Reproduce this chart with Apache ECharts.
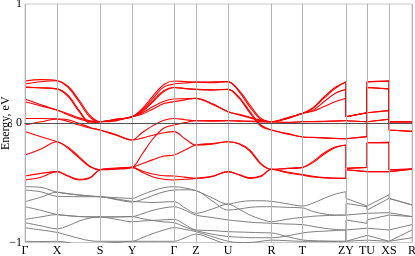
<!DOCTYPE html>
<html><head><meta charset="utf-8">
<script src="https://cdn.jsdelivr.net/npm/echarts@6/dist/echarts.min.js"></script>
<style>html,body{margin:0;padding:0;background:#fff}#c{width:415px;height:256px}</style>
</head><body><div id="c"></div>
<script>
// k-path distances (arbitrary units along the path)
const K = [0,16,32,43,54,65,75,91,107,117,128,139,149,160,171,187,203,214,225,236,246.5,262,277.5,288,299,310,321,321,342,342,364,364,387];
const kTicks  = [0,32,75,107,149,171,203,246.5,277.5,321,342,364,387];
const kLabels = ['Γ','X','S','Y','Γ','Z','U','R','T','ZY','TU','XS','R'];
const yTicks = [-1,0,1];

// red bands (eV)
const R1 = [0.354,0.366,0.357,0.31,0.195,0.065,0.013,0.035,0.055,0.12,0.23,0.325,0.354,0.35,0.345,0.347,0.349,0.275,0.153,0.04,0.013,0.045,0.083,0.13,0.22,0.30,0.349,0.055,0.088,0.349,0.352,0.013,0.013];
const R2 = [0.329,0.348,0.357,0.30,0.18,0.05,0.013,0.032,0.055,0.11,0.21,0.305,0.329,0.337,0.345,0.34,0.349,0.265,0.135,0.03,0.013,0.042,0.083,0.125,0.21,0.29,0.345,0.055,0.088,0.347,0.355,0.013,0.013];
const R3 = [0.30,0.298,0.288,0.235,0.11,0.01,0.013,0.03,0.055,0.10,0.19,0.275,0.30,0.29,0.284,0.278,0.284,0.22,0.097,-0.015,-0.057,-0.09,-0.115,-0.12,-0.125,-0.128,-0.13,-0.14,-0.112,0.301,0.288,-0.057,-0.068];
const R4 = [0.305,0.296,0.288,0.225,0.10,0.0,0.013,0.028,0.055,0.095,0.18,0.265,0.30,0.292,0.284,0.281,0.284,0.21,0.085,-0.025,-0.057,-0.085,-0.115,-0.118,-0.122,-0.126,-0.13,-0.14,-0.112,0.30,0.287,-0.057,-0.068];
const R5 = [0.203,0.155,0.111,0.08,0.045,0.02,0.013,0.025,0.055,0.085,0.14,0.185,0.203,0.206,0.209,0.165,0.097,0.075,0.05,0.025,0.013,0.04,0.083,0.11,0.18,0.25,0.284,0.055,0.088,0.097,0.108,0.013,0.013];
const R6 = [0.181,0.145,0.111,0.07,0.035,0.015,0.013,0.02,0.055,0.075,0.12,0.165,0.181,0.196,0.209,0.16,0.097,0.07,0.045,0.02,0.013,0.038,0.083,0.10,0.14,0.18,0.209,0.055,0.088,0.097,0.105,0.013,0.013];
const R7 = [0.04,0.04,0.036,0.03,0.0,-0.035,-0.057,-0.1,-0.14,-0.08,-0.02,0.025,0.04,0.03,0.021,0.022,0.021,0.02,0.018,0.015,0.013,0.008,0.013,0.015,0.017,0.019,0.021,0.035,0.013,0.027,0.033,0.013,0.013];
const R8 = [-0.015,0.012,0.036,0.015,-0.015,-0.04,-0.057,-0.095,-0.14,-0.125,-0.10,-0.08,-0.07,-0.13,-0.182,-0.175,-0.155,-0.17,-0.226,-0.338,-0.386,-0.378,-0.37,-0.32,-0.25,-0.20,-0.182,-0.378,-0.37,-0.163,-0.16,-0.39,-0.385];
const R9 = [-0.07,-0.113,-0.155,-0.20,-0.28,-0.36,-0.39,-0.385,-0.37,-0.26,-0.13,-0.04,-0.015,0.005,0.021,0.018,0.021,0.018,0.015,0.01,0.013,0.005,0.013,0.012,0.015,0.018,0.021,0.035,0.013,0.027,0.033,0.013,0.013];
const R10 = [-0.266,-0.215,-0.155,-0.21,-0.29,-0.365,-0.39,-0.38,-0.37,-0.34,-0.305,-0.275,-0.266,-0.225,-0.182,-0.17,-0.155,-0.175,-0.235,-0.345,-0.386,-0.38,-0.37,-0.33,-0.26,-0.205,-0.182,-0.378,-0.37,-0.163,-0.16,-0.39,-0.385];
const R11 = [-0.442,-0.42,-0.406,-0.445,-0.476,-0.46,-0.39,-0.38,-0.37,-0.40,-0.425,-0.44,-0.442,-0.452,-0.462,-0.448,-0.406,-0.434,-0.462,-0.447,-0.386,-0.41,-0.43,-0.445,-0.455,-0.46,-0.462,-0.39,-0.406,-0.406,-0.406,-0.39,-0.385];
const R12 = [-0.476,-0.453,-0.406,-0.44,-0.47,-0.455,-0.39,-0.375,-0.37,-0.41,-0.45,-0.47,-0.476,-0.47,-0.462,-0.445,-0.406,-0.43,-0.458,-0.44,-0.386,-0.415,-0.435,-0.45,-0.458,-0.461,-0.462,-0.39,-0.406,-0.406,-0.406,-0.39,-0.385];

// gray bands (eV)
const G1 = [-0.532,-0.538,-0.578,-0.592,-0.603,-0.611,-0.616,-0.624,-0.63,-0.60,-0.565,-0.54,-0.532,-0.543,-0.565,-0.625,-0.678,-0.66,-0.65,-0.65,-0.655,-0.675,-0.694,-0.67,-0.63,-0.595,-0.574,-0.63,-0.694,-0.69,-0.60,-0.63,-0.685];
const G2 = [-0.56,-0.575,-0.613,-0.615,-0.616,-0.616,-0.616,-0.64,-0.66,-0.64,-0.605,-0.575,-0.56,-0.558,-0.565,-0.65,-0.728,-0.72,-0.705,-0.70,-0.70,-0.705,-0.71,-0.74,-0.76,-0.77,-0.77,-0.672,-0.70,-0.728,-0.63,-0.63,-0.685];
const G3 = [-0.658,-0.62,-0.578,-0.59,-0.60,-0.61,-0.616,-0.635,-0.655,-0.66,-0.665,-0.66,-0.658,-0.71,-0.755,-0.72,-0.678,-0.72,-0.77,-0.805,-0.825,-0.805,-0.789,-0.78,-0.775,-0.772,-0.77,-0.77,-0.755,-0.755,-0.75,-0.755,-0.783];
const G4 = [-0.70,-0.73,-0.766,-0.775,-0.782,-0.785,-0.786,-0.785,-0.783,-0.76,-0.73,-0.71,-0.70,-0.73,-0.77,-0.79,-0.811,-0.82,-0.83,-0.835,-0.839,-0.845,-0.85,-0.865,-0.88,-0.89,-0.895,-0.811,-0.839,-0.81,-0.77,-0.755,-0.783];
const G5 = [-0.806,-0.785,-0.766,-0.775,-0.782,-0.785,-0.786,-0.805,-0.826,-0.82,-0.815,-0.81,-0.806,-0.85,-0.895,-0.90,-0.909,-0.912,-0.915,-0.918,-0.92,-0.95,-0.979,-0.985,-0.988,-0.99,-0.99,-0.895,-0.88,-0.88,-0.895,-0.895,-0.85];
const G6 = [-0.834,-0.86,-0.885,-0.86,-0.82,-0.795,-0.786,-0.785,-0.783,-0.80,-0.815,-0.828,-0.834,-0.87,-0.90,-0.93,-0.95,-0.955,-0.96,-0.96,-0.96,-0.945,-0.92,-0.91,-0.905,-0.90,-0.895,-0.99,-0.94,-0.95,-0.99,-0.99,-0.895];
const G7 = [-0.876,-0.895,-0.915,-0.94,-0.965,-0.985,-0.99,-0.99,-0.99,-0.96,-0.925,-0.895,-0.876,-0.89,-0.909,-0.95,-0.99,-1.0,-1.0,-0.99,-0.98,-0.985,-0.99,-0.99,-0.99,-0.99,-0.99,-0.99,-0.98,-0.99,-0.99,-0.99,-0.96];
const G8 = [-0.99,-0.992,-0.99,-1.0,-1.02,-1.02,-1.01,-1.0,-0.99,-0.99,-0.99,-0.99,-0.99,-0.96,-0.93,-0.97,-1.02,-1.03,-1.03,-1.03,-1.03,-1.03,-1.03,-1.03,-1.03,-1.03,-1.03,-1.03,-1.03,-1.03,-1.03,-1.03,-1.03];

const redBands = [R1,R2,R3,R4,R5,R6,R7,R8,R9,R10,R11,R12];
const grayBands = [G1,G2,G3,G4,G5,G6,G7,G8];

const SPLIT = 26; // last index of the continuous part (Z at 321)
function pieces(band, color, width, z) {
  const left = [], right = [];
  for (let i = 0; i < K.length; i++) {
    if (i <= SPLIT) left.push([K[i], band[i]]);
    if (i >= SPLIT) right.push([K[i], band[i]]);
  }
  const common = {type:'line', showSymbol:false, silent:true, z:z, animation:false,
                  lineStyle:{color:color, width:width}};
  return [Object.assign({data:left, smooth:0.35}, common),
          Object.assign({data:right, smooth:false}, common)];
}

const serif = 'Liberation Serif';
const series = [];
series.push({type:'line', data:[], silent:true, z:1, animation:false,
  markLine:{silent:true, symbol:'none', label:{show:false}, animation:false,
    lineStyle:{color:'#b4b4b4', width:1, type:'solid'},
    data: kTicks.map(k => ({xAxis:k}))}});
grayBands.forEach(b => series.push(...pieces(b, '#808080', 1, 2)));
series.push({type:'line', data:[], silent:true, z:3, animation:false,
  markLine:{silent:true, symbol:'none', label:{show:false}, animation:false,
    lineStyle:{color:'#505050', width:1, type:'solid'}, data:[{yAxis:0}]}});
redBands.forEach(b => series.push(...pieces(b, '#ff0000', 1.1, 4)));

const chart = echarts.init(document.getElementById('c'), null, {renderer:'canvas'});
chart.setOption({
  backgroundColor:'#fff',
  animation:false,
  grid:{left:25, right:3, top:4, bottom:13.5, show:true, borderColor:'#c8c8c8', borderWidth:1,
        containLabel:false, outerBoundsMode:'none'},
  xAxis:{type:'value', min:0, max:387,
    axisLine:{show:true, lineStyle:{color:'#333', width:1}},
    axisTick:{show:false}, splitLine:{show:false},
    axisLabel:{customValues:kTicks, formatter:v => kLabels[kTicks.indexOf(v)],
      fontFamily:serif, fontSize:12, color:'#000', margin:2}},
  yAxis:{type:'value', min:-1, max:1, interval:1,
    axisLine:{show:false}, axisTick:{show:false}, splitLine:{show:false},
    axisLabel:{formatter:v => (v < 0 ? '\u2212' + Math.abs(v) : String(v)),
      fontFamily:serif, fontSize:12, color:'#000', margin:3},
    name:'Energy, eV', nameLocation:'middle', nameGap:13, nameMoveOverlap:false,
    nameTextStyle:{fontFamily:serif, fontSize:12, color:'#000'}},
  series:series
});
</script></body></html>
